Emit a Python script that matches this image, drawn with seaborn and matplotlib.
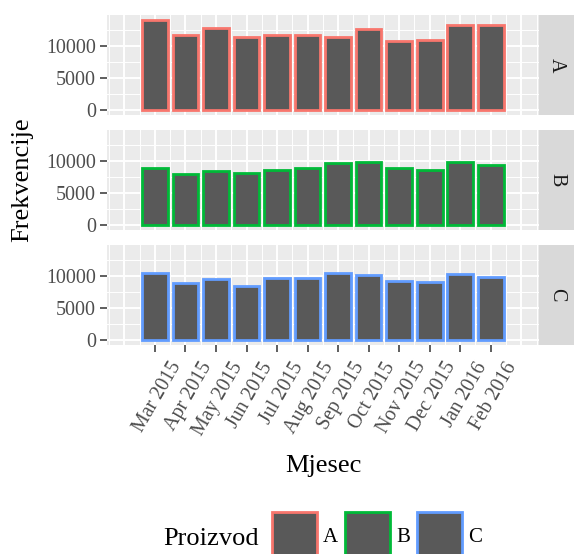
import matplotlib
matplotlib.use('Agg')
import matplotlib.pyplot as plt
import matplotlib.transforms as mtransforms
import seaborn as sns
import pandas as pd
import numpy as np
from matplotlib.patches import Patch

months = ['Mar 2015', 'Apr 2015', 'May 2015', 'Jun 2015', 'Jul 2015', 'Aug 2015',
          'Sep 2015', 'Oct 2015', 'Nov 2015', 'Dec 2015', 'Jan 2016', 'Feb 2016']
products = ['A', 'B', 'C']
freq_A = [14200, 11800, 12900, 11400, 11800, 11800, 11500, 12800, 10800, 11000, 13300, 13300]
freq_B = [8900, 8000, 8450, 8150, 8600, 8900, 9800, 9900, 8900, 8700, 9950, 9500]
freq_C = [10500, 8950, 9550, 8500, 9800, 9800, 10550, 10300, 9300, 9200, 10450, 9900]
y_ticks = [0, 5000, 10000]
y_tick_labels = ['0', '5000', '10000']
outline_colors = ['#F8766D', '#00BA38', '#619CFF']

df = pd.DataFrame({
    'Mjesec': months * 3,
    'Proizvod': np.repeat(products, len(months)),
    'Frekvencije': freq_A + freq_B + freq_C,
})

plt.rcParams['font.family'] = ['Liberation Serif', 'DejaVu Serif']

W_PX, H_PX = 574, 554
fig = plt.figure(figsize=(W_PX / 100, H_PX / 100), dpi=100)

left = 107 / W_PX
width = 432 / W_PX
panel_tops = [15, 130, 245]
panel_h = 100

for i, p in enumerate(products):
    top = panel_tops[i]
    bottom = (H_PX - top - panel_h) / H_PX
    ax = fig.add_axes([left, bottom, width, panel_h / H_PX])
    sub = df[df['Proizvod'] == p]
    sns.barplot(data=sub, x='Mjesec', y='Frekvencije', order=months,
                color='#595959', saturation=1, edgecolor=outline_colors[i],
                linewidth=2, width=0.84, errorbar=None, ax=ax)
    ax.set_facecolor('#EBEBEB')
    ax.set_axisbelow(True)
    for s in ax.spines.values():
        s.set_visible(False)
    ax.set_xlim(-1.57, len(months) - 1 + 1.58)
    ax.set_ylim(-710, 14910)
    ax.set_xlabel('')
    ax.set_ylabel('')
    ax.set_xticks(np.arange(-1, len(months) + 1))
    ax.set_xticks(np.arange(-1.5, len(months) + 1, 1.0), minor=True)
    ax.set_yticks(y_ticks)
    ax.set_yticks([2500, 7500, 12500], minor=True)
    ax.set_yticklabels(y_tick_labels)
    ax.grid(which='major', color='white', linewidth=1.4)
    ax.grid(which='minor', color='white', linewidth=0.7)
    ax.tick_params(which='minor', length=0)
    ax.tick_params(axis='y', which='major', length=5, width=1.1, color='#333333',
                   labelcolor='#4D4D4D', labelsize=14.4, pad=3)
    ticks = ax.xaxis.get_major_ticks()
    if i < 2:
        ax.tick_params(axis='x', which='major', bottom=False, labelbottom=False)
    else:
        ax.tick_params(axis='x', which='major', length=5, width=1.1, color='#333333',
                       labelcolor='#4D4D4D', labelsize=14.4, pad=2)
        ax.set_xticklabels([''] + months + [''], rotation=60, ha='right', va='top',
                           rotation_mode='anchor')
        offset = mtransforms.ScaledTranslation(14 / 100, -4 / 100, fig.dpi_scale_trans)
        for lab in ax.get_xticklabels():
            lab.set_transform(lab.get_transform() + offset)
        ticks[0].tick1line.set_visible(False)
        ticks[-1].tick1line.set_visible(False)

    sax = fig.add_axes([539 / W_PX, bottom, 35 / W_PX, panel_h / H_PX])
    sax.set_facecolor('#D9D9D9')
    sax.set_xticks([])
    sax.set_yticks([])
    for s in sax.spines.values():
        s.set_visible(False)
    sax.text(0.5, 0.5, p, rotation=-90, ha='center', va='center',
             transform=sax.transAxes, fontsize=14.4, color='#1A1A1A')

fig.text(22 / W_PX, 1 - 180 / H_PX, 'Frekvencije', rotation=90, ha='center',
         va='center', fontsize=19, color='black')
fig.text(323 / W_PX, 1 - 472 / H_PX, 'Mjesec', ha='center', va='baseline',
         fontsize=19, color='black')

fig.text(163 / W_PX, 1 - 545 / H_PX, 'Proizvod', ha='left', va='baseline',
         fontsize=19, color='black')
handles = [Patch(facecolor='#595959', edgecolor=c, linewidth=2) for c in outline_colors]
fs = 15
em = fs * 100 / 72
fig.legend(handles, products, ncol=3, frameon=False, fontsize=fs,
           loc='center left', bbox_to_anchor=(272 / W_PX, 1 - 535.5 / H_PX),
           handlelength=45 / em, handleheight=45 / (0.7 * em), handletextpad=6 / em,
           columnspacing=7 / em, borderpad=0, borderaxespad=0)

fig.savefig('out.png', dpi=100)
